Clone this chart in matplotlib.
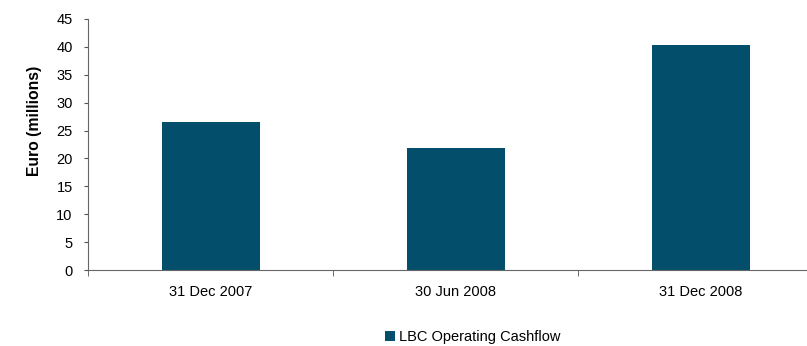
import matplotlib.pyplot as plt
import numpy as np

plt.rcParams['font.family'] = ['Liberation Sans', 'DejaVu Sans']

# operating cashflow per reporting date, euro millions
periods = ['31 Dec 2007', '30 Jun 2008', '31 Dec 2008']
cashflow = [26.5, 21.9, 40.4]
series_name = 'LBC Operating Cashflow'
bar_color = '#034f6b'

fig = plt.figure(figsize=(8.07, 3.46), dpi=100)
# plot area runs past the right edge of the figure
ax = fig.add_axes([88 / 807, 1 - 270 / 346, 735 / 807, 251 / 346])

x = np.arange(len(periods))
ax.bar(x, cashflow, width=0.4, color=bar_color, label=series_name, zorder=2)

ax.set_xlim(-0.5, len(periods) - 0.5)
ax.set_ylim(0, 45)
ax.set_yticks(np.arange(0, 46, 5))
ax.set_xticks(x)
ax.set_xticklabels(periods, fontsize=10.5)
ax.set_xticks(np.arange(-0.5, len(periods), 1), minor=True)
ax.tick_params(axis='x', which='major', length=0, pad=11)
ax.tick_params(axis='x', which='minor', length=4, color='#555555')
ax.tick_params(axis='y', length=3, color='#555555', labelsize=10.5, pad=8)

for side in ['top', 'right']:
    ax.spines[side].set_visible(False)
for side in ['left', 'bottom']:
    ax.spines[side].set_color('#666666')
    ax.spines[side].set_linewidth(0.8)

ax.set_ylabel('Euro (millions)', fontsize=11.3, fontweight='bold')
ax.yaxis.set_label_coords(-0.063, 0.596)

fig.legend(loc='center', bbox_to_anchor=(473 / 807, 1 - 337 / 346), frameon=False,
           fontsize=10.5, handlelength=0.65, handleheight=0.65, handletextpad=0.3)

fig.savefig('out.png', dpi=100)
